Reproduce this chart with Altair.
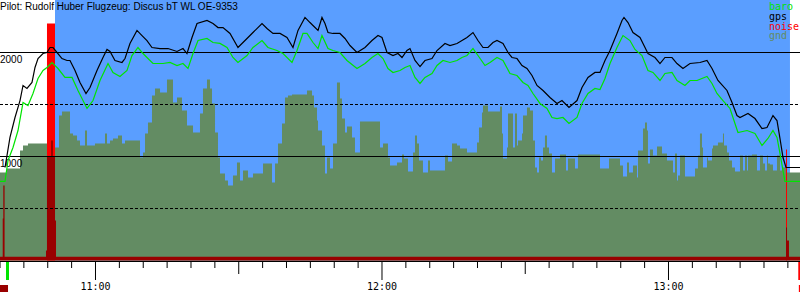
import altair as alt
import pandas as pd

# x values are minutes after 10:40
X_END = 167.54
TITLE = "Pilot: Rudolf Huber Flugzeug: Discus bT WL OE-9353"

gps_t = [1.05, 2.09, 3.14, 4.19, 4.82, 5.65, 6.70, 7.33, 7.96, 9.01,
         9.84, 10.47, 11.10, 11.94, 12.98, 14.03, 14.66, 15.71, 16.75, 18.01,
         18.85, 20.31, 21.57, 22.41, 23.04, 24.08, 25.55, 26.18, 27.22, 28.69,
         29.74, 30.78, 31.83, 33.51, 35.18, 37.07, 38.32, 39.16, 40.21, 41.26,
         43.35, 44.61, 45.65, 46.70, 48.17, 49.84, 51.73, 52.98, 54.87, 55.92,
         57.17, 58.64, 60.10, 61.36, 62.41, 63.87, 64.92, 65.55, 66.60, 67.43,
         68.06, 68.69, 69.74, 71.20, 72.25, 73.30, 74.76, 76.44, 77.90, 79.16,
         80.00, 81.05, 82.30, 83.35, 84.19, 85.23, 85.86, 86.91, 87.96, 89.00,
         90.47, 91.52, 93.19, 94.24, 95.71, 96.75, 97.80, 99.06, 100.10, 101.15,
         102.20, 103.24, 104.08, 105.34, 106.39, 107.22, 108.27, 109.32, 110.36, 111.41,
         112.46, 113.72, 115.18, 116.65, 117.69, 119.16, 120.84, 121.88, 123.14, 124.60,
         125.65, 126.70, 127.75, 129.21, 130.26, 130.68, 131.52, 132.56, 134.03, 135.08,
         135.70, 137.17, 138.22, 139.26, 140.73, 141.78, 143.03, 144.50, 146.59, 148.06,
         149.11, 150.36, 152.25, 153.30, 154.34, 154.97, 156.65, 158.11, 159.58, 160.63,
         161.88, 162.72, 163.35, 163.98, 164.61, 167.54]
gps_alt = [894, 1183, 1375, 1538, 1683, 1654, 1712, 1856, 1942, 1990,
           2000, 2048, 2048, 2000, 1942, 1923, 1923, 1827, 1712, 1606,
           1663, 1827, 1952, 2029, 2010, 1923, 1904, 1942, 2087, 2212,
           2163, 2115, 2048, 2038, 2038, 2010, 2038, 1990, 2144, 2279,
           2308, 2279, 2240, 2240, 2183, 2048, 2135, 2192, 2279, 2231,
           2183, 2183, 2144, 2048, 2212, 2337, 2288, 2260, 2212, 2337,
           2279, 2192, 2183, 2183, 2135, 2067, 2000, 2048, 2115, 2163,
           2144, 2000, 1971, 1990, 1952, 2019, 2038, 1923, 1865, 1923,
           1942, 2019, 2087, 2067, 2087, 2115, 2144, 2192, 2115, 2048,
           2048, 2096, 2115, 2087, 2000, 1952, 1942, 1875, 1846, 1779,
           1683, 1635, 1567, 1510, 1538, 1471, 1538, 1663, 1760, 1808,
           1808, 1923, 2019, 2183, 2308, 2337, 2288, 2192, 2144, 2048,
           1990, 1952, 1894, 1952, 1952, 1894, 1846, 1894, 1904, 1923,
           1846, 1731, 1635, 1519, 1394, 1375, 1413, 1365, 1269, 1279,
           1394, 1346, 1173, 990, 894, 894]

baro_t = [0, 1.05, 1.68, 2.72, 3.77, 4.82, 5.86, 6.91, 7.96, 9.01,
          9.84, 10.89, 12.15, 13.61, 15.08, 16.33, 18.22, 19.48, 20.94, 22.62,
          23.66, 25.13, 26.60, 27.64, 28.90, 29.95, 30.99, 32.04, 34.14, 35.60,
          37.07, 38.32, 39.37, 40.42, 41.47, 43.35, 44.61, 46.07, 47.54, 48.79,
          49.84, 51.73, 52.98, 54.87, 56.12, 58.01, 59.27, 61.15, 62.20, 63.45,
          64.29, 65.55, 66.60, 67.43, 68.69, 69.74, 71.20, 72.67, 74.76, 76.44,
          77.90, 79.16, 80.21, 81.25, 82.30, 83.77, 84.82, 85.86, 86.91, 87.96,
          89.00, 90.47, 91.52, 92.77, 94.24, 95.71, 96.75, 97.80, 99.06, 100.10,
          101.57, 102.62, 104.08, 105.34, 106.80, 108.27, 109.53, 110.57, 111.62, 113.09,
          114.55, 115.60, 116.65, 117.90, 119.16, 120.84, 121.88, 123.14, 124.60, 125.65,
          126.70, 127.75, 129.21, 130.47, 131.93, 132.98, 134.45, 135.70, 136.75, 138.22,
          139.26, 140.73, 141.78, 143.45, 144.50, 145.97, 148.06, 149.11, 150.15, 151.41,
          152.88, 153.92, 154.55, 156.44, 158.11, 159.58, 160.83, 161.88, 162.72, 163.35,
          163.98, 164.39, 167.54]
baro_alt = [760, 760, 962, 1087, 1250, 1519, 1490, 1606, 1750, 1827,
            1856, 1904, 1846, 1760, 1760, 1635, 1462, 1538, 1731, 1894,
            1808, 1769, 1827, 1971, 2048, 1990, 1942, 1894, 1894, 1904,
            1875, 1894, 1846, 1990, 2115, 2135, 2096, 2087, 2048, 1952,
            1904, 1971, 2048, 2115, 2048, 2019, 1990, 1904, 2019, 2183,
            2183, 2096, 2038, 2163, 2038, 2019, 2000, 1923, 1846, 1894,
            1952, 1990, 1942, 1846, 1808, 1827, 1856, 1875, 1760, 1702,
            1760, 1798, 1875, 1923, 1904, 1923, 1952, 1971, 2038, 1971,
            1875, 1904, 1952, 1923, 1798, 1779, 1712, 1683, 1606, 1510,
            1462, 1375, 1365, 1375, 1317, 1375, 1510, 1606, 1654, 1644,
            1750, 1894, 2048, 2163, 2115, 2029, 1971, 1827, 1808, 1731,
            1798, 1808, 1731, 1683, 1731, 1731, 1769, 1702, 1606, 1538,
            1462, 1317, 1231, 1250, 1221, 1106, 1173, 1250, 1183, 1029,
            865, 760, 760]

# ground elevation, (minutes after 10:40, metres), step changes
gnd_steps = [(0, 846), (1.47, 885), (4.19, 1058), (4.82, 1106), (5.86, 1125), (9.84, 1000),
             (10.68, 1154), (11.10, 1000), (11.52, 1087), (12.36, 1394), (12.98, 1433), (14.66, 1221),
             (15.29, 1202), (16.13, 1154), (16.75, 1106), (17.80, 1250), (18.22, 1106), (19.89, 1125),
             (21.99, 1221), (22.41, 1125), (23.04, 1154), (23.66, 1173), (24.71, 1202), (25.55, 1125),
             (26.18, 1154), (29.32, 990), (29.95, 1038), (30.37, 1221), (30.99, 1327), (31.83, 1587),
             (32.46, 1654), (33.51, 1615), (34.97, 1740), (36.23, 1519), (37.07, 1567), (38.11, 1442),
             (39.16, 1298), (40.42, 1231), (41.88, 1413), (42.51, 1654), (43.35, 1740), (43.98, 1654),
             (44.40, 1510), (45.03, 1231), (45.65, 990), (46.07, 837), (47.12, 769), (47.75, 721),
             (48.79, 817), (49.63, 942), (50.26, 769), (50.89, 865), (51.94, 798), (52.98, 837),
             (55.08, 933), (56.96, 750), (57.59, 933), (58.22, 1125), (59.06, 1317), (59.68, 1567),
             (60.31, 1587), (61.15, 1596), (64.29, 1635), (65.34, 1587), (65.76, 1471), (66.39, 1346),
             (66.60, 1250), (67.43, 1106), (68.06, 837), (68.48, 990), (69.11, 885), (69.74, 1125),
             (70.57, 1711), (71.20, 1558), (71.62, 1365), (72.25, 1231), (72.67, 1288), (73.72, 1183),
             (74.34, 1038), (75.39, 1337), (79.58, 1087), (80.21, 1125), (81.25, 990), (81.67, 913),
             (83.14, 942), (84.19, 1019), (84.61, 981), (85.44, 856), (86.49, 1038), (86.91, 1202),
             (87.33, 1125), (87.75, 962), (88.58, 846), (89.63, 962), (90.05, 865), (93.19, 1010),
             (93.82, 952), (94.66, 1125), (95.71, 1106), (96.33, 1077), (97.80, 1038), (99.89, 1135),
             (100.31, 1279), (100.94, 1423), (101.15, 1490), (102.20, 1433), (104.71, 1481), (105.13, 1221),
             (105.34, 981), (106.18, 1087), (106.39, 1413), (107.43, 1087), (107.85, 1413), (108.27, 1106),
             (108.48, 1154), (109.32, 1221), (109.53, 1394), (110.36, 1471), (110.99, 1442), (111.62, 1154),
             (112.04, 894), (112.46, 846), (112.88, 990), (113.30, 962), (113.72, 1087), (114.13, 1202),
             (114.55, 1087), (114.97, 1029), (115.60, 846), (116.23, 981), (117.28, 1019), (118.53, 865),
             (118.95, 981), (120.42, 885), (121.04, 1019), (125.65, 885), (127.54, 981), (129.84, 913),
             (130.47, 808), (131.31, 942), (131.73, 846), (132.56, 913), (133.40, 798), (133.61, 1058),
             (134.66, 1269), (135.08, 1327), (135.49, 1250), (135.70, 933), (136.12, 1067), (136.75, 1010),
             (137.59, 1096), (138.64, 1029), (139.68, 962), (140.94, 846), (141.36, 1029), (141.78, 769),
             (141.99, 817), (142.41, 1010), (143.45, 808), (145.55, 885), (146.17, 1010), (146.59, 1221),
             (147.01, 1087), (147.22, 894), (148.06, 990), (148.27, 962), (149.11, 1077), (149.32, 1106),
             (150.36, 1135), (151.41, 1221), (151.62, 1106), (152.25, 1038), (152.67, 962), (153.30, 894),
             (153.92, 856), (154.97, 1010), (155.60, 865), (156.02, 1010), (156.44, 865), (156.65, 1010),
             (157.48, 1019), (158.53, 865), (159.16, 1010), (159.79, 933), (160.21, 865), (160.63, 1010),
             (160.83, 933), (161.25, 923), (161.88, 865), (162.72, 1010), (163.35, 865), (163.77, 894),
             (164.61, 846), (167.54, 846)]

noise_t = [0, 0.57, 0.69, 0.96, 9.63, 9.84, 10.68, 11.10, 11.52, 11.73, 164.61, 164.82, 165.23, 167.54]
noise_v = [35, 404, 721, 35, 96, 1000, 1154, 1000, 385, 35, 317, 192, 35, 35]

engine_start = [9.84, 164.61]
engine_end = [11.52, 164.82]
engine_top = [2279, 1067]

flight_start = [11.52]
flight_end = [165.44]
sky_top = [2510]

grid_solid = [1000, 2000]
grid_dashed = [500, 1500]
alt_label_vals = [1000, 2000]
alt_label_text = ["1000", "2000"]

hour_ticks = [20, 80, 140]
hour_labels = ["11:00", "12:00", "13:00"]
half_ticks = [50, 110]
minor_ticks = [0, 5, 10, 15, 25, 30, 35, 40, 45, 55, 60, 65, 70, 75, 85, 90, 95, 100, 105,
               115, 120, 125, 130, 135, 145, 150, 155, 160, 165]

legend_names = ["baro", "gps", "noise", "gnd"]

BLUE = "#5a9eff"
GND = "#638c63"
BARO = "#00e400"
RED = "#ff0000"
DARKRED = "#990000"
legend_colors = [BARO, "#000000", RED, GND]

xs = alt.Scale(domain=[0, X_END], nice=False, zero=False)
ys = alt.Scale(domain=[0, 2500], range=[260.5, 0.5], nice=False)


def X(f):
    return alt.X(f, type="quantitative", scale=xs, axis=None)


def Y(f):
    return alt.Y(f, type="quantitative", scale=ys, axis=None)


gps_df = pd.DataFrame({"t": gps_t, "alt": gps_alt})
baro_df = pd.DataFrame({"t": baro_t, "alt": baro_alt})
gnd_df = pd.DataFrame(gnd_steps, columns=["t", "alt"])
noise_df = pd.DataFrame({"t": noise_t, "alt": noise_v})
engine_df = pd.DataFrame({"s": engine_start, "e": engine_end, "top": engine_top})
sky_df = pd.DataFrame({"s": flight_start, "e": flight_end, "top": sky_top})

layers = []
layers.append(alt.Chart(sky_df).mark_rect(color=BLUE).encode(x=X("s"), x2="e", y=Y("top"), y2=alt.datum(0)))
layers.append(alt.Chart(gnd_df).mark_area(color=GND, interpolate="step-after").encode(x=X("t"), y=Y("alt")))
layers.append(alt.Chart(engine_df).mark_rect(color=RED).encode(x=X("s"), x2="e", y=Y("top"), y2=alt.datum(0)))
layers.append(alt.Chart(noise_df).mark_area(color=DARKRED, interpolate="step-after").encode(x=X("t"), y=Y("alt")))
layers.append(alt.Chart(pd.DataFrame({"alt": grid_solid})).mark_rule(color="black", strokeWidth=1).encode(
    y=Y("alt"), x=alt.value(0), x2=alt.value(800)))
layers.append(alt.Chart(pd.DataFrame({"alt": grid_dashed})).mark_rule(color="black", strokeWidth=1, strokeDash=[3, 2]).encode(
    y=Y("alt"), x=alt.value(0), x2=alt.value(800)))
layers.append(alt.Chart(pd.DataFrame({"alt": alt_label_vals, "label": alt_label_text})).mark_text(
    align="left", baseline="alphabetic", dy=10.5, font="Liberation Sans", fontSize=10, color="black").encode(
    y=Y("alt"), x=alt.value(0), text="label:N"))
layers.append(alt.Chart(baro_df).mark_line(color=BARO, strokeWidth=1.2).encode(x=X("t"), y=Y("alt")))
layers.append(alt.Chart(gps_df).mark_line(color="black", strokeWidth=1.2).encode(x=X("t"), y=Y("alt")))

# title
layers.append(alt.Chart(pd.DataFrame({"label": [TITLE]})).mark_text(
    align="left", baseline="alphabetic", font="Liberation Sans", fontSize=10, color="black").encode(
    x=alt.value(0), y=alt.value(10), text="label:N"))

# legend
for i, (name, col) in enumerate(zip(legend_names, legend_colors)):
    layers.append(alt.Chart(pd.DataFrame({"label": [name]})).mark_text(
        align="left", baseline="alphabetic", font="DejaVu Sans Mono", fontSize=10, color=col).encode(
        x=alt.value(769), y=alt.value(10 + 9.8 * i), text="label:N"))

# time axis
layers.append(alt.Chart(pd.DataFrame({"a": [0]})).mark_rule(color="black", strokeWidth=1).encode(
    x=alt.value(0), x2=alt.value(800), y=alt.value(261.5)))
for ticks, length in [(minor_ticks, 268), (half_ticks, 274), (hour_ticks, 280)]:
    layers.append(alt.Chart(pd.DataFrame({"t": ticks})).mark_rule(color="black", strokeWidth=1).encode(
        x=X("t"), y=alt.value(261), y2=alt.value(length)))
layers.append(alt.Chart(pd.DataFrame({"t": hour_ticks, "label": hour_labels})).mark_text(
    align="center", baseline="alphabetic", font="DejaVu Sans Mono", fontSize=10, color="black").encode(
    x=X("t"), y=alt.value(290), text="label:N"))

# takeoff / landing markers
marker_start = [1.26, 167.18]
marker_end = [1.88, 168.2]
marker_color = [BARO, RED]
for s, e, c in zip(marker_start, marker_end, marker_color):
    layers.append(alt.Chart(pd.DataFrame({"s": [s], "e": [e]})).mark_rect(color=c).encode(
        x=X("s"), x2="e", y=alt.value(262), y2=alt.value(280)))
small_start = [-0.5, 167.3]
small_end = [1.68, 168.2]
small_color = [DARKRED, RED]
for s, e, c in zip(small_start, small_end, small_color):
    layers.append(alt.Chart(pd.DataFrame({"s": [s], "e": [e]})).mark_rect(color=c).encode(
        x=X("s"), x2="e", y=alt.value(285), y2=alt.value(292)))

chart = alt.layer(*layers).properties(
    width=800, height=261,
    autosize=alt.AutoSizeParams(type="none"),
    padding={"left": 0, "right": 0, "top": 0, "bottom": 39},
    background="white",
).configure_view(stroke=None)

chart.save("out.html", embed_options={"renderer": "svg", "actions": False})
